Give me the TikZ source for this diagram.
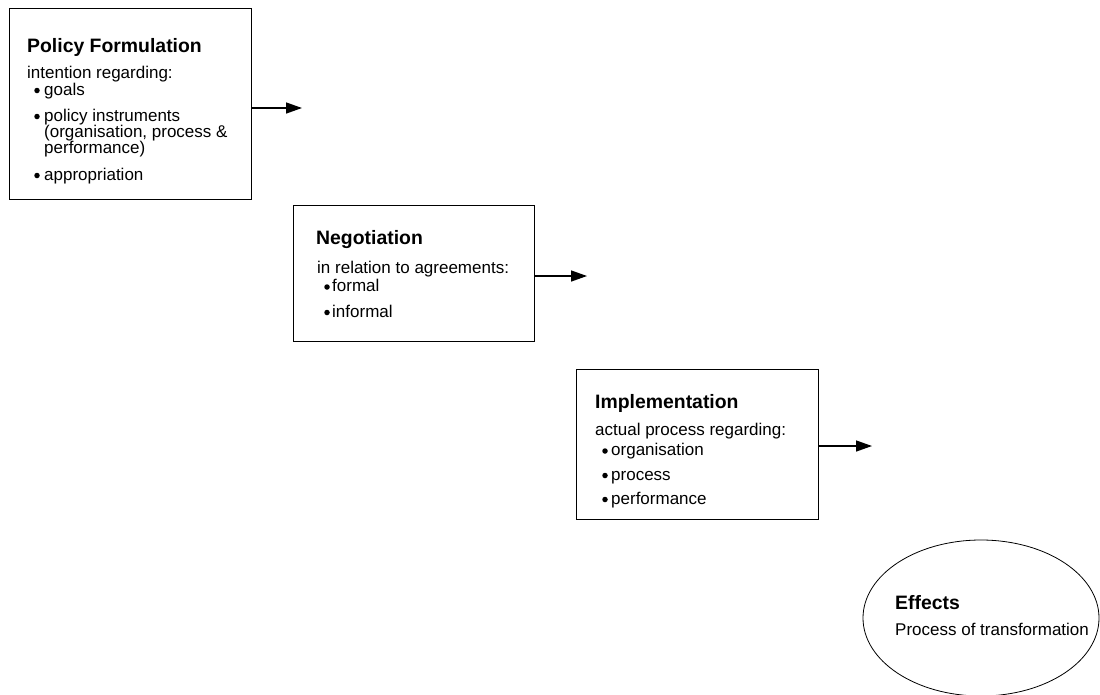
\documentclass[tikz,border=0pt]{standalone}
\usepackage{fontspec}
\setmainfont{Liberation Sans}
\usetikzlibrary{arrows.meta,shapes.geometric}
\tikzset{
  box/.style={draw=black, line width=1pt, fill=white, rectangle, anchor=north west, inner sep=0pt},
  ttl/.style={anchor=base west, inner sep=0pt, font=\fontsize{19.4pt}{22pt}\selectfont\bfseries},
  txt/.style={anchor=base west, inner sep=0pt, font=\fontsize{17pt}{20pt}\selectfont},
  dot/.style={circle, fill=black, inner sep=0pt, minimum size=5.5pt},
  arr/.style={line width=1.4pt, -{Triangle[length=16pt,width=11pt]}},
  ell/.style={draw=black, line width=0.8pt, ellipse, inner sep=0pt}
}
\begin{document}
\begin{tikzpicture}[x=1pt,y=-1pt]
\useasboundingbox (0,0) rectangle (1100,694);
\clip (0,0) rectangle (1100,694);
% Box 1
\node[box, minimum width=242pt, minimum height=191pt] (b1) at (9,8) {};
\node[ttl] (t1) at (27,52) {Policy Formulation};
\node[txt] (t1a) at (27,78.5) {intention regarding:};
\node[dot] (d1a) at (37,90.5) {};
\node[txt] (t1b) at (44,95) {goals};
\node[dot] (d1b) at (37,116.5) {};
\node[txt] (t1c) at (44,121) {policy instruments};
\node[txt] (t1d) at (44,137) {(organisation, process \&};
\node[txt] (t1e) at (44,153) {performance)};
\node[dot] (d1c) at (37,175.5) {};
\node[txt] (t1f) at (44,180) {appropriation};
\coordinate (a1) at (302,108);
\draw[arr] (b1.east |- a1) -- (a1);
% Box 2
\node[box, minimum width=241pt, minimum height=136pt] (b2) at (293,205) {};
\node[ttl] (t2) at (316,244) {Negotiation};
\node[txt] (t2a) at (317,273) {in relation to agreements:};
\node[dot] (d2a) at (327,287) {};
\node[txt] (t2b) at (332,291.5) {formal};
\node[dot] (d2b) at (327,312.5) {};
\node[txt] (t2c) at (332,317) {informal};
\coordinate (a2) at (587,276);
\draw[arr] (b2.east |- a2) -- (a2);
% Box 3
\node[box, minimum width=242pt, minimum height=150pt] (b3) at (576,369) {};
\node[ttl] (t3) at (595,408) {Implementation};
\node[txt] (t3a) at (595,435) {actual process regarding:};
\node[dot] (d3a) at (605,451) {};
\node[txt] (t3b) at (611,455.5) {organisation};
\node[dot] (d3b) at (605,475.5) {};
\node[txt] (t3c) at (611,480) {process};
\node[dot] (d3c) at (605,499.5) {};
\node[txt] (t3d) at (611,504) {performance};
\coordinate (a3) at (872,446);
\draw[arr] (b3.east |- a3) -- (a3);
% Effects
\node[ell, minimum width=236pt, minimum height=156pt] (e) at (981,618) {};
\node[ttl] (t4) at (895,609) {Effects};
\node[txt] (t4a) at (895,635) {Process of transformation};
\end{tikzpicture}
\end{document}
